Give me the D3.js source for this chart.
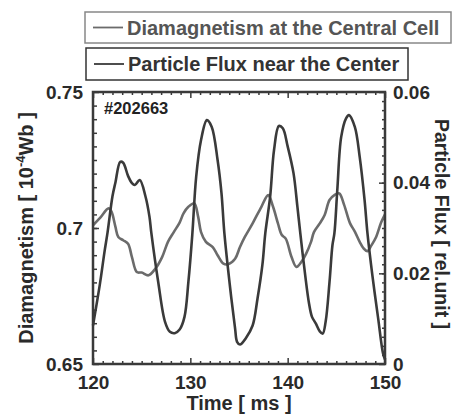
<!DOCTYPE html>
<html>
<head>
<meta charset="utf-8">
<script src="https://cdn.jsdelivr.net/npm/d3@7"></script>
<style>
  body { margin: 0; background: #fff; }
  svg text { font-family: "Liberation Sans", Arial, sans-serif; font-weight: bold; }
</style>
</head>
<body>
<div id="chart"></div>
<script>
// --- Data ---
var fluxTime = [120.0, 120.7, 121.2, 121.5, 122.0, 122.3, 122.8, 123.1, 123.6, 124.0, 124.3, 124.8, 125.4, 125.8,
    126.0, 126.7, 127.4, 127.9, 128.4, 128.9, 129.4, 129.8, 130.2, 130.6, 131.1, 131.7, 132.2, 132.8, 133.2, 133.5,
    134.1, 134.6, 134.8, 135.1, 135.7, 136.4, 136.9, 137.4, 137.7, 138.2, 138.6, 139.1, 139.5, 140.0, 140.6, 141.0,
    141.3, 141.8, 142.2, 142.5, 142.9, 143.3, 143.6, 143.9, 144.3, 144.6, 144.8, 145.1, 145.5, 146.0, 146.3, 146.9,
    147.4, 147.9, 148.2, 148.7, 149.3, 149.8, 150.0];
var fluxValue = [0.0085, 0.0175, 0.0250, 0.0291, 0.0370, 0.0400, 0.0446, 0.0444, 0.0415, 0.0399, 0.0395, 0.0406, 0.0369, 0.0325,
    0.0288, 0.0181, 0.0093, 0.0071, 0.0068, 0.0076, 0.0104, 0.0181, 0.0285, 0.0413, 0.0494, 0.0538, 0.0523, 0.0450, 0.0377, 0.0288,
    0.0166, 0.0078, 0.0049, 0.0043, 0.0057, 0.0085, 0.0144, 0.0218, 0.0288, 0.0369, 0.0472, 0.0525, 0.0520, 0.0480, 0.0421, 0.0347,
    0.0288, 0.0196, 0.0133, 0.0104, 0.0089, 0.0072, 0.0067, 0.0093, 0.0181, 0.0262, 0.0288, 0.0384, 0.0501, 0.0542, 0.0549, 0.0523,
    0.0457, 0.0362, 0.0288, 0.0196, 0.0100, 0.0023, 0.0010];

var diaTime = [120.0, 120.7, 121.6, 121.9, 122.3, 122.6, 123.1, 123.6, 124.0, 124.5, 125.0, 125.7, 126.4, 127.1, 127.7,
    128.3, 128.9, 129.3, 129.8, 130.4, 130.8, 131.1, 131.6, 132.3, 132.8, 133.4, 133.9, 134.6, 135.1, 135.6, 136.4,
    137.3, 138.0, 138.5, 139.0, 139.4, 139.8, 140.4, 140.9, 141.4, 141.9, 142.4, 142.7, 143.3, 143.8, 144.3, 144.8,
    145.3, 145.8, 146.4, 146.9, 147.4, 147.8, 148.2, 148.6, 149.1, 149.6, 150.0];
var diaValue = [0.7010, 0.7036, 0.7072, 0.7060, 0.7005, 0.6967, 0.6955, 0.6942, 0.6893, 0.6838, 0.6836, 0.6826, 0.6850, 0.6893, 0.6949,
    0.6985, 0.7020, 0.7054, 0.7078, 0.7091, 0.7042, 0.6985, 0.6949, 0.6930, 0.6900, 0.6869, 0.6867, 0.6887, 0.6930, 0.6967, 0.7017,
    0.7078, 0.7121, 0.7078, 0.7017, 0.6974, 0.6961, 0.6893, 0.6857, 0.6875, 0.6906, 0.6949, 0.6985, 0.7017, 0.7048, 0.7103, 0.7121,
    0.7127, 0.7085, 0.7018, 0.6987, 0.6949, 0.6925, 0.6915, 0.6936, 0.6968, 0.7020, 0.7050];

var xTicks = [120, 130, 140, 150];
var leftTicks = [0.65, 0.7, 0.75];
var rightTicks = [0, 0.02, 0.04, 0.06];
var legendLabels = ["Diamagnetism at the Central Cell", "Particle Flux near the Center"];
var shotLabel = "#202663";

// --- Setup the canvas ---
var W = 452, H = 419;
var margins = {top: 92, bottom: 55, left: 93, right: 67};
var width = W - margins.left - margins.right;
var height = H - margins.top - margins.bottom;

var darkColor = "#3a3a3a", grayColor = "#6b6b6b", textColor = "#2a2a2a";

var svg = d3.select("#chart").append("svg")
    .attr("width", W)
    .attr("height", H);

var group = svg.append("g")
    .attr("transform", "translate(" + margins.left + ", " + margins.top + ")");

// --- Scales ---
var x = d3.scaleLinear().domain([120, 150]).range([0, width]);
var yLeft = d3.scaleLinear().domain([0.65, 0.75]).range([height, 0]);
var yRight = d3.scaleLinear().domain([0, 0.06]).range([height, 0]);

// --- Axes: minor ticks first, then major ticks with labels ---
function styleAxis(sel) {
    sel.select(".domain").remove();
    sel.selectAll("line").attr("stroke", darkColor).attr("stroke-width", 1.5);
    sel.selectAll("text").attr("fill", textColor).attr("font-size", "19px");
}

var xMinor = d3.range(121, 150, 1).filter(function(d) { return d % 10 !== 0; });
group.append("g").attr("transform", "translate(0," + height + ")")
    .call(d3.axisBottom(x).tickValues(xMinor).tickSize(-3).tickFormat(""))
    .call(styleAxis);
group.append("g").attr("transform", "translate(0," + height + ")")
    .call(d3.axisBottom(x).tickValues(xTicks).tickSize(-6).tickPadding(12).tickFormat(d3.format("d")))
    .call(styleAxis);
group.append("g")
    .call(d3.axisTop(x).tickValues(xMinor).tickSize(-3).tickFormat(""))
    .call(styleAxis);
group.append("g")
    .call(d3.axisTop(x).tickValues(xTicks).tickSize(-6).tickFormat(""))
    .call(styleAxis);

var leftMinor = d3.range(0.655, 0.7499, 0.005);
group.append("g")
    .call(d3.axisLeft(yLeft).tickValues(leftMinor).tickSize(-4).tickFormat(""))
    .call(styleAxis);
group.append("g")
    .call(d3.axisLeft(yLeft).tickValues(leftTicks).tickSize(-6).tickPadding(10).tickFormat(function(d) { return String(d); }))
    .call(styleAxis);

var rightMinor = d3.range(0.002, 0.0599, 0.002);
group.append("g").attr("transform", "translate(" + width + ",0)")
    .call(d3.axisRight(yRight).tickValues(rightMinor).tickSize(-3).tickFormat(""))
    .call(styleAxis);
group.append("g").attr("transform", "translate(" + width + ",0)")
    .call(d3.axisRight(yRight).tickValues(rightTicks).tickSize(-6).tickPadding(8).tickFormat(function(d) { return String(d); }))
    .call(styleAxis);

// --- Lines ---
var fluxData = fluxTime.map(function(t, i) { return {t: t, v: fluxValue[i]}; });
var diaData = diaTime.map(function(t, i) { return {t: t, v: diaValue[i]}; });

var plot = group.append("g");
plot.append("path").datum(diaData)
    .attr("fill", "none")
    .attr("stroke", grayColor)
    .attr("stroke-width", 2.6)
    .attr("stroke-linejoin", "round")
    .attr("d", d3.line().x(function(d) { return x(d.t); }).y(function(d) { return yLeft(d.v); }).curve(d3.curveCatmullRom));
plot.append("path").datum(fluxData)
    .attr("fill", "none")
    .attr("stroke", darkColor)
    .attr("stroke-width", 2.6)
    .attr("stroke-linejoin", "round")
    .attr("d", d3.line().x(function(d) { return x(d.t); }).y(function(d) { return yRight(d.v); }).curve(d3.curveCatmullRom));

// --- Frame ---
group.append("rect")
    .attr("width", width).attr("height", height)
    .attr("fill", "none")
    .attr("stroke", darkColor)
    .attr("stroke-width", 2.5);

group.append("text")
    .text(shotLabel)
    .attr("x", 11).attr("y", 22)
    .attr("font-size", "16.5px")
    .attr("fill", "#222");

// --- Axis labels ---
group.append("text")
    .text("Time [ ms ]")
    .attr("x", width / 2)
    .attr("y", height + 46)
    .attr("text-anchor", "middle")
    .attr("font-size", "20px")
    .attr("fill", textColor);

var leftLabel = svg.append("text")
    .attr("transform", "translate(33," + (margins.top + height / 2) + ") rotate(-90)")
    .attr("text-anchor", "middle")
    .attr("font-size", "20px")
    .attr("fill", textColor);
leftLabel.append("tspan").text("Diamagnetism [ 10");
leftLabel.append("tspan").text("-4").attr("font-size", "13px").attr("dy", "-8");
leftLabel.append("tspan").text("Wb ]").attr("dy", "8");

svg.append("text")
    .text("Particle Flux [ rel.unit ]")
    .attr("transform", "translate(435," + (margins.top + height / 2 - 4) + ") rotate(90)")
    .attr("text-anchor", "middle")
    .attr("font-size", "19.5px")
    .attr("fill", textColor);

// --- Legend ---
var legendBoxes = [
    {x: 85, y: 12, w: 366, h: 31, line: grayColor, text: "#555", border: "#888"},
    {x: 86, y: 48, w: 322, h: 32, line: darkColor, text: "#333", border: "#333"}
];
legendBoxes.forEach(function(b, i) {
    var lg = svg.append("g").attr("transform", "translate(" + b.x + "," + b.y + ")");
    lg.append("rect")
        .attr("width", b.w).attr("height", b.h)
        .attr("fill", "#fff")
        .attr("stroke", b.border)
        .attr("stroke-width", 1.5);
    lg.append("line")
        .attr("x1", 8).attr("x2", 38)
        .attr("y1", b.h / 2).attr("y2", b.h / 2)
        .attr("stroke", b.line)
        .attr("stroke-width", 1.8);
    lg.append("text")
        .text(legendLabels[i])
        .attr("x", 42).attr("y", b.h / 2 + 7)
        .attr("font-size", "20px")
        .attr("fill", b.text);
});
</script>
</body>
</html>
